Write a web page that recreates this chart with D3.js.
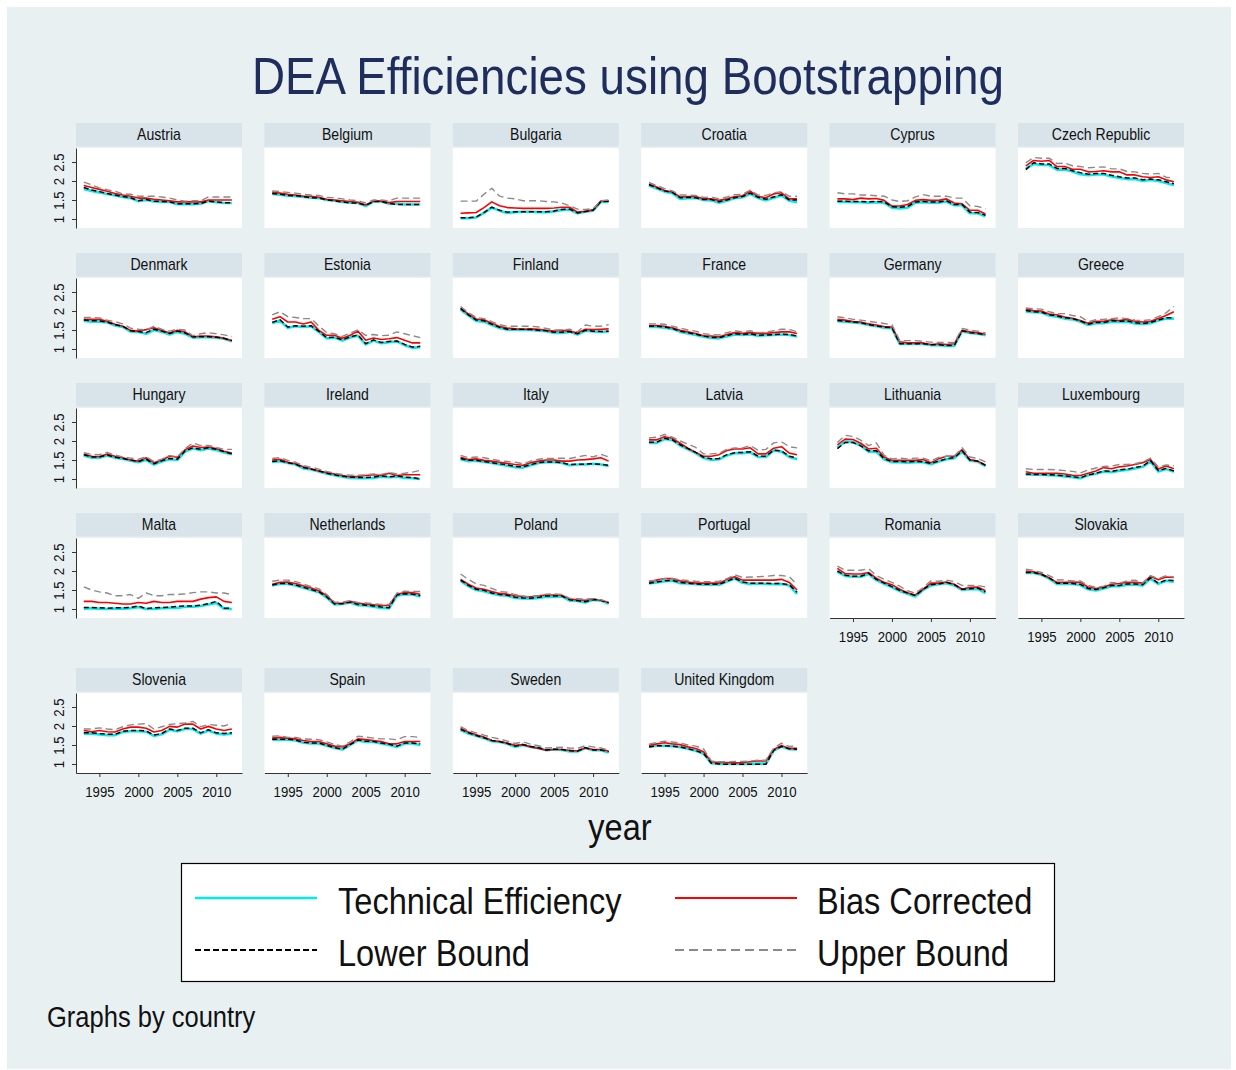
<!DOCTYPE html>
<html><head><meta charset="utf-8">
<script src="https://cdn.jsdelivr.net/npm/d3@7"></script>
<style>
body{margin:0;background:#fff}
svg{display:block}
text{font-family:"Liberation Sans",Arial,Helvetica,sans-serif;fill:#111}
</style></head>
<body>
<svg id="chart" width="1236" height="1070"></svg>
<script>
// ---------- DATA ----------
const countries = ["Austria","Belgium","Bulgaria","Croatia","Cyprus","Czech Republic",
  "Denmark","Estonia","Finland","France","Germany","Greece",
  "Hungary","Ireland","Italy","Latvia","Lithuania","Luxembourg",
  "Malta","Netherlands","Poland","Portugal","Romania","Slovakia",
  "Slovenia","Spain","Sweden","United Kingdom"];
const years = [1993,1994,1995,1996,1997,1998,1999,2000,2001,2002,2003,2004,2005,2006,2007,2008,2009,2010,2011,2012];
const yTicks = [1,1.5,2,2.5];
const xTicks = [1995,2000,2005,2010];
const legendLabels = ["Technical Efficiency","Bias Corrected","Lower Bound","Upper Bound"];

// Technical Efficiency (one row per country, same order as countries)
const techEff = [
 [1.79,1.74,1.70,1.66,1.62,1.58,1.55,1.47,1.50,1.46,1.45,1.45,1.39,1.39,1.39,1.40,1.47,1.44,1.42,1.42],
 [1.66,1.64,1.61,1.60,1.58,1.56,1.55,1.50,1.48,1.45,1.43,1.42,1.34,1.46,1.46,1.40,1.40,1.38,1.38,1.38],
 [1.02,1.02,1.04,1.16,1.30,1.22,1.16,1.18,1.19,1.19,1.18,1.18,1.20,1.24,1.25,1.15,1.19,1.22,1.45,1.45],
 [1.88,1.80,1.72,1.68,1.53,1.55,1.55,1.50,1.49,1.43,1.48,1.55,1.57,1.66,1.55,1.49,1.56,1.62,1.48,1.44],
 [1.45,1.45,1.44,1.44,1.43,1.44,1.43,1.30,1.28,1.30,1.43,1.44,1.43,1.43,1.46,1.36,1.36,1.15,1.15,1.07],
 [2.32,2.45,2.42,2.42,2.30,2.30,2.25,2.18,2.15,2.17,2.17,2.12,2.08,2.05,2.05,2.00,2.03,2.00,1.95,1.89],
 [1.74,1.72,1.72,1.70,1.62,1.58,1.46,1.45,1.40,1.50,1.45,1.38,1.45,1.40,1.30,1.31,1.31,1.30,1.27,1.20],
 [1.68,1.75,1.56,1.60,1.58,1.60,1.45,1.28,1.30,1.22,1.30,1.35,1.12,1.22,1.15,1.18,1.20,1.10,1.03,1.05],
 [2.04,1.88,1.74,1.72,1.63,1.55,1.51,1.51,1.50,1.50,1.48,1.47,1.42,1.42,1.45,1.38,1.48,1.46,1.45,1.46],
 [1.58,1.58,1.56,1.53,1.45,1.41,1.37,1.32,1.29,1.28,1.33,1.38,1.37,1.38,1.35,1.36,1.37,1.38,1.37,1.33],
 [1.73,1.72,1.70,1.68,1.63,1.60,1.56,1.55,1.13,1.13,1.13,1.13,1.10,1.10,1.08,1.08,1.47,1.42,1.40,1.36],
 [1.99,1.97,1.96,1.88,1.85,1.80,1.78,1.72,1.63,1.68,1.68,1.72,1.71,1.72,1.67,1.66,1.68,1.75,1.80,1.80],
 [1.62,1.56,1.56,1.62,1.56,1.53,1.48,1.44,1.50,1.38,1.46,1.52,1.50,1.72,1.80,1.76,1.80,1.76,1.70,1.65],
 [1.45,1.47,1.42,1.38,1.28,1.25,1.20,1.14,1.10,1.06,1.03,1.02,1.02,1.03,1.06,1.05,1.06,1.03,1.02,1.00],
 [1.52,1.47,1.48,1.45,1.42,1.38,1.35,1.31,1.30,1.36,1.42,1.44,1.44,1.42,1.36,1.38,1.38,1.40,1.38,1.34],
 [1.95,1.95,2.05,2.02,1.88,1.78,1.68,1.55,1.50,1.52,1.62,1.68,1.68,1.70,1.58,1.58,1.75,1.72,1.58,1.52],
 [1.83,1.98,1.97,1.88,1.72,1.72,1.52,1.44,1.44,1.43,1.44,1.44,1.39,1.46,1.52,1.55,1.72,1.48,1.46,1.34],
 [1.12,1.11,1.11,1.10,1.09,1.07,1.05,1.02,1.10,1.14,1.20,1.18,1.22,1.24,1.28,1.32,1.46,1.20,1.26,1.19],
 [1.01,1.02,1.01,1.00,1.01,1.01,1.02,1.05,1.00,1.00,1.02,1.03,1.03,1.06,1.06,1.08,1.12,1.16,1.01,1.00],
 [1.62,1.66,1.66,1.62,1.56,1.50,1.44,1.30,1.12,1.13,1.17,1.10,1.09,1.06,1.03,1.02,1.35,1.39,1.38,1.33],
 [1.74,1.60,1.50,1.47,1.41,1.36,1.35,1.29,1.28,1.27,1.29,1.32,1.32,1.33,1.22,1.21,1.17,1.24,1.22,1.14],
 [1.67,1.70,1.73,1.74,1.68,1.67,1.65,1.64,1.64,1.64,1.72,1.80,1.69,1.66,1.67,1.66,1.65,1.66,1.62,1.40],
 [1.98,1.87,1.85,1.85,1.92,1.76,1.66,1.57,1.47,1.40,1.33,1.50,1.62,1.65,1.68,1.62,1.50,1.52,1.53,1.42],
 [1.95,1.95,1.90,1.80,1.66,1.66,1.66,1.63,1.52,1.49,1.54,1.60,1.60,1.64,1.64,1.62,1.80,1.66,1.74,1.72],
 [1.80,1.80,1.78,1.76,1.76,1.84,1.86,1.86,1.85,1.74,1.78,1.90,1.86,1.92,1.92,1.80,1.88,1.80,1.78,1.80],
 [1.64,1.64,1.64,1.62,1.56,1.54,1.54,1.48,1.42,1.38,1.50,1.62,1.58,1.58,1.54,1.50,1.45,1.54,1.54,1.50],
 [1.89,1.80,1.74,1.68,1.60,1.58,1.53,1.45,1.50,1.45,1.42,1.36,1.38,1.37,1.33,1.33,1.42,1.36,1.36,1.30],
 [1.46,1.48,1.48,1.47,1.44,1.40,1.35,1.27,1.02,1.00,1.00,1.00,1.00,1.00,1.01,1.01,1.35,1.46,1.39,1.38]
];

// Bias Corrected
const biasCorr = [
 [1.88,1.83,1.78,1.73,1.67,1.63,1.60,1.55,1.55,1.52,1.50,1.48,1.45,1.45,1.45,1.45,1.50,1.50,1.50,1.50],
 [1.71,1.68,1.65,1.63,1.60,1.60,1.57,1.52,1.50,1.48,1.46,1.44,1.37,1.47,1.47,1.43,1.46,1.46,1.46,1.46],
 [1.15,1.16,1.17,1.30,1.45,1.35,1.30,1.29,1.28,1.28,1.28,1.28,1.29,1.31,1.31,1.18,1.20,1.24,1.47,1.47],
 [1.92,1.84,1.75,1.71,1.58,1.59,1.59,1.53,1.53,1.49,1.53,1.59,1.61,1.73,1.59,1.56,1.66,1.69,1.53,1.53],
 [1.53,1.53,1.51,1.55,1.53,1.54,1.49,1.34,1.34,1.38,1.49,1.51,1.49,1.49,1.53,1.42,1.40,1.23,1.23,1.13],
 [2.40,2.54,2.52,2.54,2.38,2.38,2.31,2.31,2.24,2.25,2.27,2.24,2.24,2.16,2.16,2.11,2.09,2.11,2.03,1.98],
 [1.78,1.78,1.78,1.73,1.65,1.60,1.49,1.47,1.51,1.56,1.49,1.42,1.49,1.45,1.32,1.34,1.34,1.32,1.28,1.22],
 [1.78,1.85,1.71,1.71,1.66,1.71,1.49,1.36,1.36,1.28,1.36,1.47,1.23,1.29,1.25,1.27,1.30,1.23,1.16,1.16],
 [2.08,1.92,1.79,1.77,1.68,1.59,1.55,1.53,1.52,1.53,1.52,1.49,1.47,1.49,1.47,1.42,1.52,1.51,1.52,1.53],
 [1.62,1.62,1.60,1.56,1.49,1.45,1.41,1.35,1.34,1.32,1.38,1.43,1.41,1.43,1.41,1.41,1.43,1.45,1.45,1.41],
 [1.78,1.76,1.72,1.71,1.66,1.63,1.59,1.58,1.19,1.16,1.16,1.16,1.12,1.14,1.12,1.14,1.49,1.45,1.43,1.39],
 [2.05,2.01,2.00,1.92,1.90,1.84,1.81,1.75,1.68,1.73,1.73,1.77,1.75,1.78,1.73,1.71,1.73,1.80,1.88,1.98],
 [1.66,1.60,1.59,1.66,1.60,1.56,1.50,1.47,1.56,1.43,1.50,1.60,1.57,1.77,1.87,1.83,1.84,1.80,1.73,1.68],
 [1.50,1.52,1.44,1.40,1.32,1.27,1.21,1.17,1.13,1.09,1.06,1.07,1.09,1.11,1.09,1.15,1.09,1.11,1.11,1.11],
 [1.57,1.51,1.53,1.49,1.47,1.44,1.41,1.38,1.36,1.43,1.47,1.50,1.50,1.47,1.47,1.50,1.51,1.53,1.56,1.47],
 [2.03,2.03,2.11,2.07,1.94,1.81,1.70,1.60,1.60,1.64,1.75,1.79,1.79,1.82,1.66,1.66,1.81,1.85,1.68,1.64],
 [1.90,2.05,2.04,1.94,1.79,1.81,1.58,1.49,1.49,1.49,1.49,1.51,1.43,1.53,1.60,1.60,1.77,1.51,1.47,1.37],
 [1.19,1.15,1.15,1.15,1.15,1.13,1.10,1.09,1.15,1.21,1.30,1.27,1.32,1.34,1.38,1.43,1.51,1.26,1.34,1.27],
 [1.20,1.20,1.17,1.17,1.15,1.13,1.13,1.17,1.15,1.20,1.17,1.17,1.20,1.20,1.20,1.26,1.30,1.32,1.20,1.17],
 [1.65,1.70,1.71,1.67,1.61,1.55,1.48,1.35,1.15,1.15,1.20,1.15,1.13,1.11,1.09,1.09,1.39,1.43,1.43,1.39],
 [1.78,1.65,1.55,1.52,1.46,1.41,1.39,1.35,1.33,1.32,1.35,1.37,1.37,1.36,1.26,1.24,1.23,1.26,1.23,1.17],
 [1.71,1.76,1.80,1.80,1.74,1.71,1.68,1.68,1.68,1.68,1.78,1.85,1.76,1.76,1.76,1.76,1.76,1.78,1.70,1.50],
 [2.07,1.93,1.92,1.92,1.96,1.81,1.70,1.64,1.52,1.43,1.37,1.52,1.68,1.68,1.71,1.65,1.52,1.57,1.58,1.48],
 [2.00,1.98,1.92,1.82,1.70,1.70,1.71,1.70,1.58,1.54,1.58,1.65,1.67,1.70,1.70,1.68,1.86,1.77,1.84,1.83],
 [1.88,1.85,1.88,1.85,1.84,1.92,1.97,1.97,1.94,1.84,1.88,1.99,1.97,2.05,2.05,1.92,1.99,1.92,1.88,1.92],
 [1.68,1.70,1.68,1.66,1.62,1.59,1.59,1.53,1.47,1.45,1.53,1.66,1.64,1.62,1.59,1.53,1.53,1.59,1.59,1.59],
 [1.94,1.84,1.77,1.71,1.62,1.59,1.55,1.49,1.51,1.45,1.41,1.36,1.38,1.38,1.36,1.34,1.42,1.38,1.38,1.34],
 [1.49,1.53,1.56,1.53,1.51,1.45,1.41,1.32,1.06,1.04,1.04,1.03,1.04,1.06,1.08,1.08,1.38,1.49,1.41,1.41]
];

// Lower Bound
const lowerB = [
 [1.83,1.76,1.72,1.67,1.63,1.59,1.56,1.48,1.51,1.47,1.46,1.45,1.40,1.40,1.40,1.41,1.47,1.45,1.43,1.43],
 [1.67,1.65,1.62,1.61,1.59,1.56,1.55,1.50,1.48,1.45,1.42,1.42,1.36,1.46,1.46,1.41,1.38,1.38,1.38,1.38],
 [1.03,1.03,1.05,1.17,1.31,1.23,1.18,1.19,1.19,1.19,1.19,1.19,1.21,1.25,1.26,1.16,1.20,1.23,1.46,1.47],
 [1.90,1.82,1.74,1.70,1.56,1.57,1.56,1.51,1.51,1.45,1.50,1.56,1.59,1.68,1.57,1.52,1.58,1.64,1.50,1.50],
 [1.47,1.47,1.46,1.46,1.45,1.46,1.45,1.32,1.31,1.33,1.45,1.46,1.45,1.45,1.48,1.38,1.38,1.18,1.17,1.10],
 [2.30,2.48,2.45,2.45,2.33,2.33,2.27,2.22,2.18,2.20,2.20,2.15,2.11,2.08,2.08,2.03,2.05,2.03,1.98,1.93],
 [1.76,1.74,1.74,1.71,1.64,1.60,1.48,1.46,1.43,1.52,1.47,1.41,1.47,1.42,1.32,1.32,1.32,1.31,1.28,1.22],
 [1.70,1.77,1.58,1.61,1.60,1.61,1.46,1.30,1.31,1.24,1.32,1.37,1.14,1.24,1.17,1.20,1.21,1.12,1.05,1.07],
 [2.06,1.90,1.76,1.74,1.65,1.57,1.52,1.52,1.52,1.51,1.49,1.48,1.44,1.44,1.46,1.40,1.49,1.47,1.46,1.47],
 [1.60,1.60,1.58,1.54,1.47,1.43,1.39,1.34,1.30,1.30,1.35,1.40,1.38,1.40,1.36,1.37,1.38,1.39,1.38,1.34],
 [1.75,1.73,1.71,1.69,1.64,1.61,1.57,1.56,1.14,1.14,1.14,1.14,1.11,1.11,1.09,1.09,1.48,1.43,1.41,1.37],
 [2.01,1.98,1.97,1.90,1.87,1.82,1.80,1.74,1.65,1.70,1.70,1.74,1.73,1.74,1.69,1.67,1.70,1.76,1.82,1.82],
 [1.64,1.58,1.58,1.63,1.57,1.54,1.50,1.46,1.52,1.40,1.48,1.54,1.52,1.74,1.82,1.78,1.82,1.78,1.72,1.66],
 [1.46,1.48,1.43,1.39,1.30,1.26,1.21,1.15,1.11,1.07,1.05,1.04,1.04,1.05,1.08,1.06,1.08,1.05,1.04,1.00],
 [1.54,1.49,1.49,1.46,1.43,1.40,1.37,1.33,1.32,1.38,1.43,1.45,1.45,1.43,1.38,1.39,1.39,1.40,1.39,1.36],
 [1.97,1.97,2.07,2.03,1.90,1.80,1.70,1.57,1.53,1.54,1.64,1.69,1.70,1.72,1.60,1.60,1.76,1.74,1.60,1.55],
 [1.80,1.96,1.96,1.87,1.74,1.74,1.53,1.46,1.46,1.45,1.46,1.45,1.41,1.47,1.53,1.56,1.74,1.50,1.47,1.36],
 [1.13,1.12,1.12,1.11,1.10,1.08,1.06,1.03,1.11,1.15,1.21,1.20,1.24,1.26,1.30,1.34,1.48,1.22,1.28,1.21],
 [1.04,1.04,1.03,1.02,1.03,1.03,1.04,1.08,1.01,1.03,1.04,1.05,1.07,1.08,1.08,1.10,1.14,1.20,1.02,1.02],
 [1.63,1.67,1.67,1.63,1.57,1.51,1.45,1.32,1.13,1.14,1.18,1.12,1.10,1.08,1.05,1.03,1.37,1.40,1.39,1.35],
 [1.76,1.62,1.52,1.49,1.42,1.38,1.36,1.31,1.29,1.28,1.31,1.34,1.34,1.34,1.24,1.22,1.19,1.25,1.23,1.16],
 [1.68,1.71,1.74,1.75,1.70,1.68,1.66,1.65,1.65,1.65,1.73,1.81,1.71,1.68,1.68,1.68,1.67,1.67,1.64,1.44],
 [2.00,1.89,1.86,1.86,1.94,1.78,1.68,1.59,1.49,1.42,1.35,1.52,1.64,1.66,1.70,1.64,1.52,1.53,1.55,1.45],
 [1.96,1.96,1.91,1.82,1.68,1.68,1.67,1.65,1.54,1.51,1.56,1.62,1.62,1.66,1.66,1.64,1.82,1.68,1.76,1.75],
 [1.82,1.82,1.80,1.78,1.78,1.86,1.88,1.88,1.87,1.76,1.80,1.92,1.88,1.94,1.94,1.82,1.90,1.82,1.80,1.82],
 [1.65,1.65,1.65,1.63,1.57,1.55,1.55,1.49,1.43,1.39,1.51,1.63,1.60,1.59,1.55,1.52,1.47,1.55,1.55,1.53],
 [1.91,1.82,1.75,1.69,1.62,1.59,1.54,1.47,1.51,1.46,1.43,1.37,1.39,1.38,1.35,1.34,1.43,1.37,1.37,1.32],
 [1.45,1.48,1.48,1.47,1.45,1.40,1.35,1.28,1.02,1.00,0.99,0.99,0.99,0.99,0.99,0.99,1.36,1.46,1.40,1.39]
];

// Upper Bound
const upperB = [
 [1.97,1.90,1.82,1.77,1.73,1.66,1.65,1.60,1.60,1.60,1.58,1.55,1.50,1.47,1.48,1.48,1.58,1.58,1.58,1.58],
 [1.74,1.72,1.70,1.68,1.65,1.63,1.62,1.57,1.56,1.53,1.50,1.48,1.42,1.50,1.50,1.48,1.55,1.55,1.55,1.55],
 [1.47,1.47,1.47,1.65,1.81,1.60,1.55,1.53,1.48,1.48,1.48,1.46,1.45,1.42,1.35,1.26,1.25,1.27,1.48,1.50],
 [1.96,1.88,1.80,1.74,1.63,1.63,1.62,1.57,1.58,1.53,1.58,1.64,1.65,1.76,1.63,1.62,1.69,1.72,1.60,1.60],
 [1.69,1.66,1.66,1.63,1.63,1.61,1.60,1.50,1.46,1.48,1.58,1.64,1.60,1.60,1.60,1.55,1.55,1.35,1.33,1.27],
 [2.48,2.62,2.60,2.60,2.46,2.47,2.40,2.38,2.35,2.36,2.37,2.32,2.32,2.25,2.24,2.20,2.18,2.20,2.10,2.08],
 [1.83,1.83,1.82,1.76,1.72,1.66,1.55,1.52,1.50,1.60,1.52,1.47,1.52,1.50,1.35,1.40,1.43,1.40,1.37,1.33],
 [1.90,1.98,1.85,1.83,1.80,1.80,1.60,1.43,1.40,1.33,1.42,1.50,1.36,1.38,1.35,1.36,1.45,1.40,1.35,1.30],
 [2.12,1.96,1.83,1.80,1.72,1.64,1.60,1.60,1.60,1.60,1.58,1.54,1.50,1.50,1.52,1.45,1.63,1.60,1.60,1.64],
 [1.66,1.66,1.65,1.60,1.55,1.50,1.47,1.40,1.38,1.37,1.43,1.48,1.45,1.48,1.43,1.44,1.48,1.52,1.52,1.45],
 [1.85,1.82,1.78,1.76,1.73,1.70,1.67,1.64,1.22,1.22,1.22,1.20,1.18,1.17,1.17,1.17,1.54,1.50,1.47,1.42],
 [2.08,2.06,2.05,1.98,1.93,1.93,1.88,1.85,1.72,1.77,1.78,1.80,1.82,1.80,1.76,1.75,1.77,1.85,1.95,2.12],
 [1.69,1.65,1.64,1.70,1.63,1.58,1.55,1.52,1.58,1.46,1.52,1.62,1.58,1.80,1.95,1.88,1.88,1.83,1.78,1.78],
 [1.54,1.56,1.49,1.44,1.35,1.31,1.26,1.20,1.15,1.12,1.10,1.10,1.11,1.13,1.12,1.17,1.13,1.15,1.18,1.23],
 [1.62,1.56,1.58,1.56,1.52,1.48,1.46,1.44,1.40,1.47,1.52,1.54,1.54,1.55,1.54,1.58,1.62,1.58,1.65,1.58],
 [2.08,2.10,2.17,2.10,2.00,1.92,1.83,1.66,1.66,1.68,1.78,1.82,1.82,1.88,1.76,1.78,1.95,1.98,1.85,1.82],
 [1.96,2.15,2.12,2.02,1.88,1.95,1.62,1.53,1.55,1.53,1.55,1.55,1.48,1.57,1.60,1.60,1.82,1.58,1.54,1.45],
 [1.27,1.25,1.25,1.25,1.24,1.22,1.20,1.16,1.24,1.29,1.33,1.34,1.38,1.38,1.40,1.45,1.55,1.32,1.37,1.35],
 [1.58,1.50,1.45,1.42,1.35,1.35,1.38,1.28,1.42,1.35,1.35,1.38,1.38,1.40,1.43,1.45,1.45,1.42,1.42,1.38],
 [1.73,1.76,1.76,1.72,1.66,1.59,1.53,1.38,1.18,1.18,1.22,1.17,1.16,1.14,1.12,1.12,1.42,1.47,1.46,1.46],
 [1.92,1.78,1.66,1.62,1.54,1.46,1.44,1.38,1.34,1.32,1.35,1.39,1.40,1.38,1.28,1.27,1.26,1.27,1.24,1.20],
 [1.74,1.76,1.80,1.80,1.77,1.75,1.73,1.72,1.72,1.73,1.80,1.90,1.83,1.84,1.85,1.86,1.88,1.88,1.85,1.64],
 [2.13,2.02,2.02,2.02,2.06,1.88,1.78,1.70,1.60,1.48,1.42,1.56,1.74,1.73,1.76,1.72,1.62,1.62,1.62,1.58],
 [2.05,2.02,1.96,1.88,1.77,1.76,1.74,1.74,1.62,1.57,1.60,1.70,1.68,1.74,1.76,1.68,1.88,1.80,1.88,1.84],
 [1.92,1.92,1.95,1.92,1.90,1.98,2.03,2.05,2.06,1.92,1.98,2.04,2.06,2.08,2.12,1.98,2.04,2.02,2.00,2.07],
 [1.73,1.74,1.70,1.70,1.66,1.65,1.64,1.58,1.52,1.47,1.58,1.73,1.71,1.68,1.66,1.66,1.64,1.72,1.72,1.70],
 [1.98,1.88,1.82,1.76,1.70,1.66,1.60,1.54,1.58,1.52,1.48,1.42,1.43,1.44,1.42,1.41,1.48,1.45,1.42,1.37],
 [1.52,1.57,1.60,1.58,1.55,1.50,1.47,1.40,1.08,1.06,1.06,1.07,1.07,1.08,1.10,1.10,1.42,1.55,1.46,1.48]
];

// ---------- STYLE / LAYOUT ----------
const FONT = '"Liberation Sans",Arial,Helvetica,sans-serif';
const SQ = 0.88; // horizontal condensation of Stata's font
const seriesDefs = [
  {data: techEff,  color: "#00EAF0", width: 2.6, dash: null},
  {data: biasCorr, color: "#FF0000", width: 1.6, dash: null},
  {data: lowerB,   color: "#000000", width: 1.5, dash: "5,3"},
  {data: upperB,   color: "#8A8A8A", width: 1.4, dash: "7,4"}
];
const panelW = 166, plotH = 80, stripH = 23.5, colPitch = 188.4, left0 = 76;
const rowTops = [123, 253, 383, 513, 668];
const nCols = 6;

const svg = d3.select("#chart");
svg.append("rect").attr("x",7).attr("y",7).attr("width",1224).attr("height",1062).attr("fill","#E8F0F2");

function ctext(g, x, y, s, size, anchor, color) {
  return g.append("text")
    .attr("transform", `translate(${x},${y}) scale(${SQ},1)`)
    .attr("text-anchor", anchor)
    .style("font-size", size + "px")
    .style("fill", color || "#111")
    .text(s);
}

// Title
ctext(svg, 628, 94, "DEA Efficiencies using Bootstrapping", 52, "middle", "#1E2D5C");

const x = d3.scaleLinear().domain([1992.0, 2013.3]).range([0, panelW]);
const y = d3.scaleLinear().domain([0.763, 2.868]).range([plotH, 0]);
const line = d3.line().x((d, i) => x(years[i])).y(d => y(d));

const nRowsFull = Math.floor(countries.length / nCols);
const lastRowCount = countries.length % nCols;

countries.forEach((name, i) => {
  const col = i % nCols, row = Math.floor(i / nCols);
  const g = svg.append("g").attr("transform", `translate(${left0 + col * colPitch},${rowTops[row]})`);
  g.append("rect").attr("width", panelW).attr("height", stripH).attr("fill", "#D8E4EA");
  ctext(g, panelW / 2, 17, name, 16, "middle", "#111");

  const p = g.append("g").attr("transform", `translate(0,${stripH + 1.5})`);
  p.append("rect").attr("width", panelW).attr("height", plotH).attr("fill", "#fff");

  seriesDefs.forEach(s => {
    p.append("path").datum(s.data[i])
      .attr("d", line)
      .attr("fill", "none")
      .attr("stroke", s.color)
      .attr("stroke-width", s.width)
      .attr("stroke-dasharray", s.dash)
      .attr("stroke-linejoin", "round");
  });

  if (col === 0) {
    const ax = p.append("g").call(d3.axisLeft(y).tickValues(yTicks).tickSize(4).tickSizeOuter(0).tickFormat(d3.format("")));
    ax.attr("font-family", FONT).attr("font-size", 15);
    ax.select(".domain").attr("stroke", "#333");
    ax.selectAll(".tick line").attr("stroke", "#333");
    ax.selectAll(".tick text")
      .attr("x", null).attr("dy", null)
      .attr("text-anchor", "middle")
      .attr("transform", `translate(-12,0) rotate(-90) scale(${SQ},1)`)
      .attr("fill", "#111");
  }
  const isBottom = (row === nRowsFull) || (row === nRowsFull - 1 && col >= lastRowCount);
  if (isBottom) {
    const ax = p.append("g").attr("transform", `translate(0,${plotH})`)
      .call(d3.axisBottom(x).tickValues(xTicks).tickSize(4).tickSizeOuter(0).tickFormat(d3.format("d")));
    ax.attr("font-family", FONT).attr("font-size", 15);
    ax.select(".domain").attr("stroke", "#333");
    ax.selectAll(".tick line").attr("stroke", "#333");
    ax.selectAll(".tick text")
      .attr("y", null).attr("dy", null)
      .attr("transform", `translate(0,24) scale(${SQ},1)`)
      .attr("fill", "#111");
  }
});

// x-axis title
ctext(svg, 620, 840, "year", 37, "middle", "#111");

// Legend
const lg = svg.append("g");
lg.append("rect").attr("x", 181.5).attr("y", 863.5).attr("width", 873).attr("height", 118)
  .attr("fill", "#fff").attr("stroke", "#000").attr("stroke-width", 1.2);
const legPos = [
  {lx: 195, ly: 898, tx: 338, ty: 914},
  {lx: 675, ly: 898, tx: 817, ty: 914},
  {lx: 195, ly: 950, tx: 338, ty: 966},
  {lx: 675, ly: 950, tx: 817, ty: 966}
];
legendLabels.forEach((lab, k) => {
  const s = seriesDefs[k], pp = legPos[k];
  lg.append("line").attr("x1", pp.lx).attr("x2", pp.lx + 122).attr("y1", pp.ly).attr("y2", pp.ly)
    .attr("stroke", s.color).attr("stroke-width", k === 0 ? 2.6 : 1.8)
    .attr("stroke-dasharray", k === 2 ? "6,3" : (k === 3 ? "9,5" : null));
  ctext(lg, pp.tx, pp.ty, lab, 37, "start", "#111");
});

// note
ctext(svg, 47, 1027, "Graphs by country", 29, "start", "#111");
</script>
</body></html>
